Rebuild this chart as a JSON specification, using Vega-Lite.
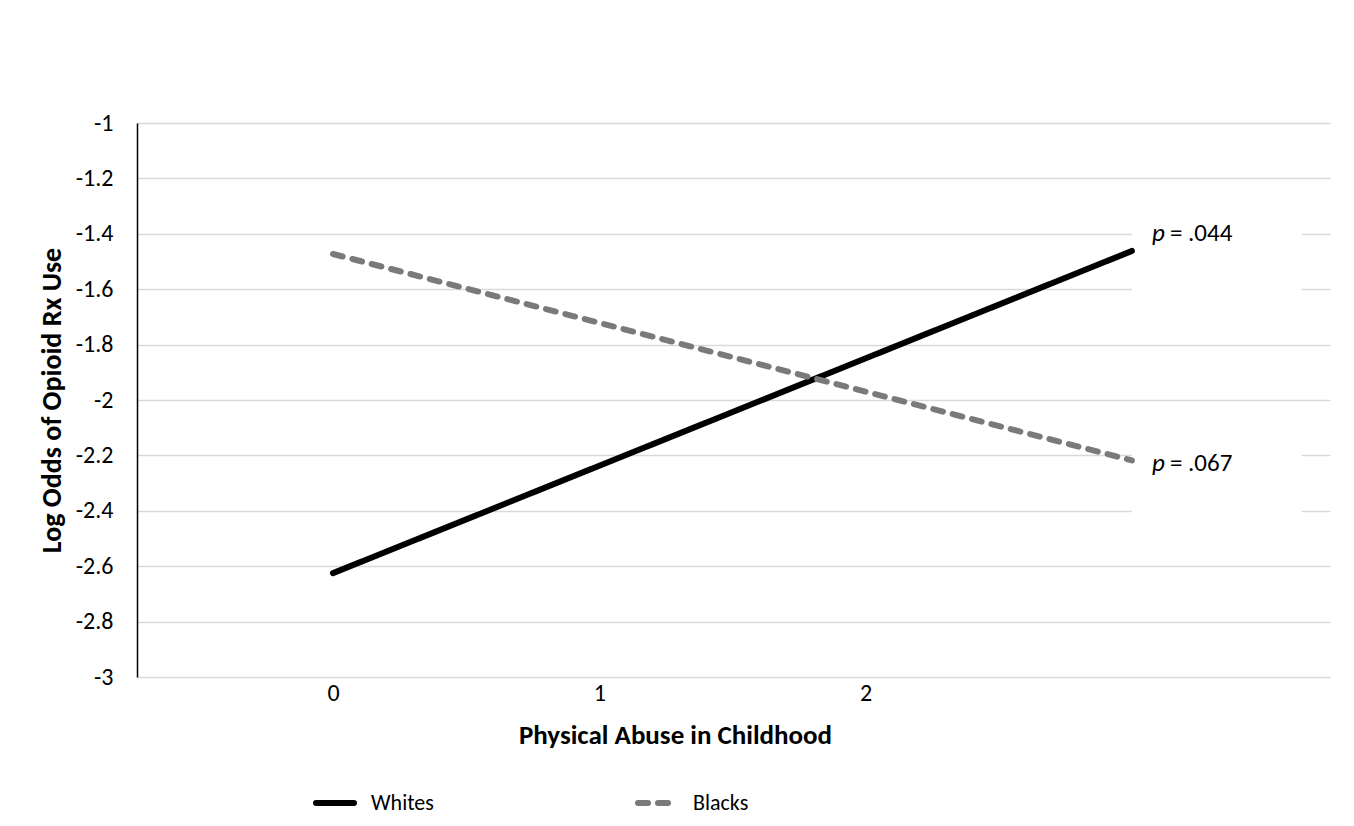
{
  "$schema": "https://vega.github.io/schema/vega-lite/v6.json",
  "width": 1193,
  "height": 554,
  "autosize": {"type": "none"},
  "padding": {"left": 137, "top": 123, "right": 24, "bottom": 149},
  "background": "white",
  "config": {
    "font": "Carlito, Lato, sans-serif",
    "view": {"stroke": null}
  },
  "datasets": {
    "lines": [
      {"series": "Whites", "abuse": 0, "logodds": -2.625},
      {"series": "Whites", "abuse": 3, "logodds": -1.462},
      {"series": "Blacks", "abuse": 0, "logodds": -1.473},
      {"series": "Blacks", "abuse": 3, "logodds": -2.218}
    ],
    "labels": [
      {"series": "Whites", "abuse": 3, "logodds": -1.397, "ptext": "= .044"},
      {"series": "Blacks", "abuse": 3, "logodds": -2.227, "ptext": "= .067"}
    ]
  },
  "encoding": {
    "x": {
      "field": "abuse", "type": "quantitative",
      "scale": {"domain": [-0.736, 3.744], "nice": false, "zero": false},
      "axis": {
        "values": [0, 1, 2],
        "grid": false, "domain": false, "ticks": false,
        "labelFontSize": 24, "labelColor": "#000000", "labelPadding": 4,
        "labelExpr": "'' + datum.value",
        "title": "Physical Abuse in Childhood",
        "titleFontSize": 27, "titleFontWeight": "bold", "titleColor": "#000000",
        "titleX": 538, "titleY": 45, "titleBaseline": "top",
        "encode": {"labels": {"update": {"fontSize": {"value": 24}}}}
      }
    },
    "y": {
      "field": "logodds", "type": "quantitative",
      "scale": {"domain": [-3, -1], "nice": false, "zero": false},
      "axis": {
        "values": [-1, -1.2, -1.4, -1.6, -1.8, -2, -2.2, -2.4, -2.6, -2.8, -3],
        "labelExpr": "'' + datum.value",
        "grid": true, "gridColor": "#d9d9d9", "gridWidth": 1.5,
        "domain": true, "domainColor": "#000000", "domainWidth": 1.5,
        "ticks": false,
        "labelFontSize": 24, "labelColor": "#000000", "labelPadding": 24,
        "title": "Log Odds of Opioid Rx Use",
        "titleFontSize": 28, "titleFontWeight": "bold", "titleColor": "#000000",
        "titlePadding": 9,
        "encode": {"labels": {"update": {"fontSize": {"value": 24}}}}
      }
    }
  },
  "layer": [
    {
      "data": {"name": "labels"},
      "mark": {"type": "point", "shape": "M0,-0.088H1V0.353H0Z", "size": 115600, "filled": true, "color": "white", "opacity": 1, "strokeWidth": 0}
    },
    {
      "data": {"name": "lines"},
      "mark": {"type": "line", "strokeWidth": 6, "strokeCap": "round"},
      "encoding": {
        "color": {
          "field": "series", "type": "nominal",
          "scale": {"domain": ["Whites", "Blacks"], "range": ["#000000", "#7a7a7a"]},
          "legend": {
            "title": null, "orient": "none", "direction": "horizontal",
            "legendX": 176, "legendY": 658, "padding": 0,
            "symbolType": "stroke", "symbolSize": 1444, "symbolStrokeWidth": 6,
            "labelFontSize": 22, "labelColor": "#000000", "labelOffset": 14,
            "columnPadding": 192,
            "encode": {"symbols": {"update": {"strokeCap": {"value": "round"}}}}
          }
        },
        "strokeDash": {
          "field": "series", "type": "nominal",
          "scale": {"domain": ["Whites", "Blacks"], "range": [[1, 0], [10, 10]]},
          "legend": {
            "title": null, "orient": "none", "direction": "horizontal",
            "legendX": 176, "legendY": 658, "padding": 0,
            "symbolType": "stroke", "symbolSize": 1444, "symbolStrokeWidth": 6,
            "labelFontSize": 22, "labelColor": "#000000", "labelOffset": 14,
            "columnPadding": 192,
            "encode": {"symbols": {"update": {"strokeCap": {"value": "round"}}}}
          }
        }
      }
    },
    {
      "data": {"name": "labels"},
      "mark": {"type": "text", "text": "p", "fontStyle": "italic", "fontSize": 25, "align": "left", "baseline": "middle", "dx": 20, "color": "#000000"}
    },
    {
      "data": {"name": "labels"},
      "mark": {"type": "text", "fontSize": 25, "align": "left", "baseline": "middle", "dx": 38, "color": "#000000"},
      "encoding": {
        "text": {"field": "ptext", "type": "nominal"}
      }
    }
  ]
}
